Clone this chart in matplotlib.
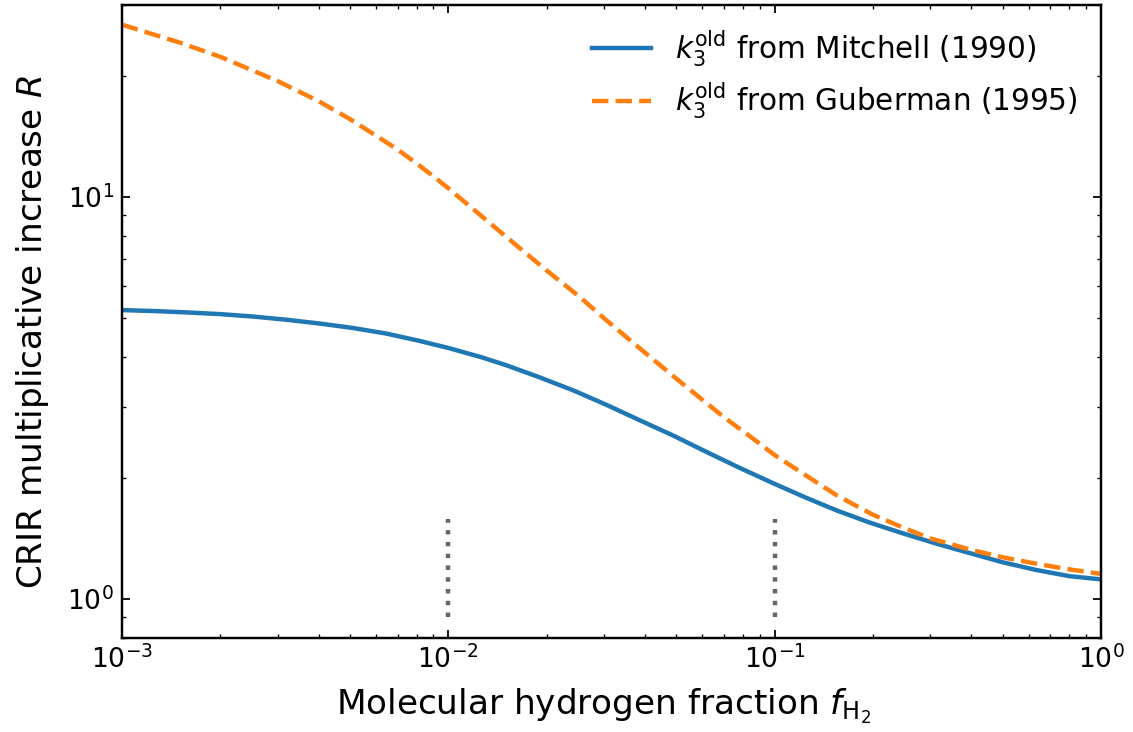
import numpy as np
import matplotlib
matplotlib.use('Agg')
import matplotlib.pyplot as plt

# values (x = f_H2, y = R)
f_mitchell = [0.001, 0.00126, 0.00158, 0.002, 0.00252, 0.00318, 0.00405, 0.0051, 0.00647, 0.0081,
              0.01, 0.0126, 0.0151, 0.019, 0.0242, 0.0305, 0.0387, 0.049, 0.0619, 0.078,
              0.099, 0.124, 0.155, 0.196, 0.248, 0.315, 0.397, 0.5, 0.636, 0.8, 1.0]
R_mitchell = [5.23, 5.20, 5.16, 5.11, 5.04, 4.95, 4.84, 4.72, 4.57, 4.39,
              4.21, 3.995, 3.81, 3.56, 3.30, 3.04, 2.78, 2.547, 2.32, 2.12,
              1.94, 1.79, 1.66, 1.548, 1.455, 1.371, 1.30, 1.234, 1.18, 1.14, 1.119]

f_guberman = [0.001, 0.0015, 0.002, 0.003, 0.004, 0.005, 0.006, 0.007, 0.008, 0.009,
              0.01, 0.012, 0.015, 0.02, 0.025, 0.03, 0.034, 0.04, 0.05, 0.06,
              0.07, 0.085, 0.1, 0.12, 0.155, 0.2, 0.25, 0.3, 0.4, 0.5,
              0.64, 0.8, 1.0]
R_guberman = [26.8, 24.2, 22.3, 19.4, 17.3, 15.6, 14.2, 13.1, 12.1, 11.25,
              10.5, 9.28, 7.97, 6.56, 5.68, 4.99, 4.58, 4.10, 3.53, 3.13,
              2.83, 2.52, 2.28, 2.07, 1.81, 1.62, 1.50, 1.415, 1.325, 1.27,
              1.222, 1.185, 1.155]

marker_f = [0.01, 0.1]
marker_R = [0.9, 1.58]

plt.rcParams.update({'font.size': 12})
fig = plt.figure(figsize=(1133 / 160, 732 / 160), dpi=160)
ax = fig.add_axes((0.1077, 0.1284, 0.8641, 0.8648))

ax.plot(f_mitchell, R_mitchell, '-', color='C0', lw=2,
        label=r'$k_3^{\mathrm{old}}$ from Mitchell (1990)')
ax.plot(f_guberman, R_guberman, '--', color='C1', lw=2,
        label=r'$k_3^{\mathrm{old}}$ from Guberman (1995)')
for f in marker_f:
    ax.plot([f, f], marker_R, ':', color='0.4', lw=2)

ax.set_xscale('log')
ax.set_yscale('log')
ax.set_xlim(1e-3, 1)
ax.set_ylim(0.8, 30)

ax.set_xlabel(r'Molecular hydrogen fraction $f_{\mathrm{H_2}}$', fontsize=15.4, labelpad=5.3)
ax.set_ylabel(r'CRIR multiplicative increase $R$', fontsize=15.4, labelpad=7.5)
ax.xaxis.label.set_x(0.492)
ax.yaxis.label.set_y(0.484)
ax.tick_params(which='both', direction='in', top=True, right=True, labelsize=12)
for s in ax.spines.values():
    s.set_linewidth(1.1)

ax.legend(loc='upper right', frameon=False, fontsize=13.3,
          labelspacing=0.4, borderaxespad=0.4)

fig.savefig('out.png', dpi=160)
